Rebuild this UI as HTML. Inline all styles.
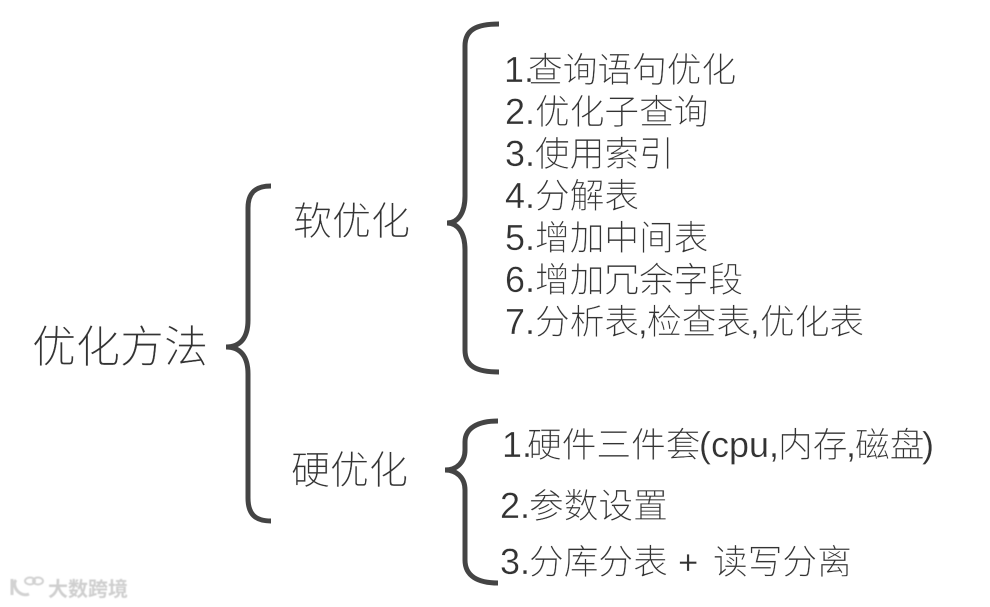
<!DOCTYPE html>
<html lang="zh">
<head>
<meta charset="utf-8">
<title>优化方法</title>
<style>
html,body{margin:0;padding:0;background:#fff;width:990px;height:607px;overflow:hidden}
svg{display:block}
text{font-family:"Liberation Sans","Noto Sans CJK SC","WenQuanYi Zen Hei",sans-serif;font-weight:300;fill:#333;stroke:#fff;stroke-width:.3px}
.b{fill:none;stroke:#444;stroke-width:5;stroke-linecap:butt}
.i{font-size:34.7px}
.n{font-size:36px}
</style>
</head>
<body>
<svg width="990" height="607" viewBox="0 0 990 607" xmlns="http://www.w3.org/2000/svg">
<defs><filter id="s" x="-10%" y="-10%" width="120%" height="120%"><feGaussianBlur stdDeviation=".6"/></filter></defs>
<rect width="990" height="607" fill="#fff"/>

<path class="b" d="M271 186 C255 186 248 193 248 208 L248 320 C248 338 240 347 226 347 C240 347 248 356 248 374 L248 498 C248 514 255 521 271 521"/>
<path class="b" d="M499 24 C476 24 465 30 465 46 L465 196 C465 213 458 223 447 223 C458 223 465 233 465 250 L465 350 C465 366 476 372 499 372"/>
<path class="b" d="M498 421 C478 421 465 428 465 442 L465 450 C465 462 457 470 445 470 C457 470 465 478 465 490 L465 560 C465 576 478 583 498 583"/>

<text x="32" y="362" font-size="44">优化方法</text>
<text x="293" y="235" font-size="39">软优化</text>
<text x="291" y="484" font-size="39">硬优化</text>

<text class="i" y="82"><tspan class="n" x="504">1.</tspan><tspan x="528">查询语句优化</tspan></text>
<text class="i" y="124"><tspan class="n" x="505">2.</tspan><tspan x="535">优化子查询</tspan></text>
<text class="i" y="166"><tspan class="n" x="505">3.</tspan><tspan x="535">使用索引</tspan></text>
<text class="i" y="208"><tspan class="n" x="505">4.</tspan><tspan x="535">分解表</tspan></text>
<text class="i" y="250"><tspan class="n" x="505">5.</tspan><tspan x="535">增加中间表</tspan></text>
<text class="i" y="292"><tspan class="n" x="505">6.</tspan><tspan x="535">增加冗余字段</tspan></text>
<text class="i" y="334"><tspan class="n" x="505">7.</tspan><tspan x="535">分析表</tspan><tspan x="638">,</tspan><tspan x="647">检查表</tspan><tspan x="750">,</tspan><tspan x="760">优化表</tspan></text>

<text class="i" y="457"><tspan class="n" x="502">1.</tspan><tspan x="527">硬件三件套</tspan><tspan class="n" x="699">(cpu,</tspan><tspan x="778">内存</tspan><tspan class="n" x="846">,</tspan><tspan x="855">磁盘</tspan><tspan class="n" x="922">)</tspan></text>
<text class="i" y="518"><tspan class="n" x="500">2.</tspan><tspan x="529">参数设置</tspan></text>
<text class="i" y="574"><tspan class="n" x="500">3.</tspan><tspan x="529">分库分表</tspan><tspan x="678">+</tspan><tspan x="713">读写分离</tspan></text>

<g filter="url(#s)">
<path d="M12 579 L12 595 M16 580 C11 586 20 598 29 594" fill="none" stroke="#d2d2d2" stroke-width="3"/>
<ellipse cx="30" cy="581" rx="5" ry="3.5" fill="none" stroke="#d2d2d2" stroke-width="2"/>
<ellipse cx="38" cy="581" rx="5" ry="3.5" fill="none" stroke="#d2d2d2" stroke-width="2"/>
<text x="48" y="596" font-size="20" style="fill:#cfcfcf;font-weight:700;stroke:none">大数跨境</text>
</g>
</svg>
</body>
</html>
